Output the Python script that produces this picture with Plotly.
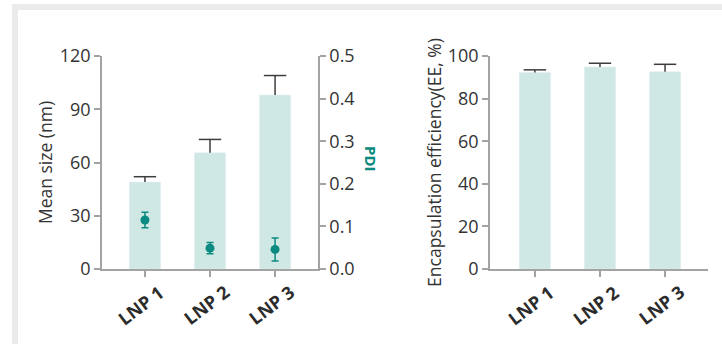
import plotly.graph_objects as go

categories = ["LNP 1", "LNP 2", "LNP 3"]
mean_size = [49, 65.5, 98]
mean_size_err = [3, 7.5, 11]
pdi = [0.115, 0.049, 0.046]
pdi_err = [0.018, 0.013, 0.027]
ee = [92.2, 94.8, 92.6]
ee_err = [1.3, 1.8, 3.5]

W, H = 722, 344
BAR = "#cfe8e4"
TEAL = "#0a8a80"
AX = "#a3a3a3"
TXT = "#333333"
FONT = "Open Sans"

def px(x):
    return x / W

def py(y):
    return (H - y) / H

fig = go.Figure()

# Left chart bars (mean size)
fig.add_trace(go.Bar(x=categories, y=mean_size, marker_color=BAR, width=0.48,
                     error_y=dict(type="data", symmetric=False, array=mean_size_err,
                                  arrayminus=[0] * 3, width=0, thickness=1.5, color="#3d3d3d"),
                     xaxis="x", yaxis="y", showlegend=False))
fig.add_trace(go.Scatter(x=categories, y=[m + e for m, e in zip(mean_size, mean_size_err)],
                         mode="markers", marker=dict(symbol="line-ew", size=16,
                                                     line=dict(width=1.5, color="#3d3d3d")),
                         xaxis="x", yaxis="y", showlegend=False))
# PDI points
fig.add_trace(go.Scatter(x=categories, y=pdi, mode="markers",
                         marker=dict(color=TEAL, size=9),
                         error_y=dict(type="data", array=pdi_err, width=3.5, thickness=1.5, color=TEAL),
                         xaxis="x", yaxis="y2", showlegend=False))

# Right chart bars (EE)
fig.add_trace(go.Bar(x=categories, y=ee, marker_color=BAR, width=0.48,
                     error_y=dict(type="data", symmetric=False, array=ee_err,
                                  arrayminus=[0] * 3, width=0, thickness=1.5, color="#3d3d3d"),
                     xaxis="x2", yaxis="y3", showlegend=False))
fig.add_trace(go.Scatter(x=categories, y=[m + e for m, e in zip(ee, ee_err)],
                         mode="markers", marker=dict(symbol="line-ew", size=16,
                                                     line=dict(width=1.5, color="#3d3d3d")),
                         xaxis="x2", yaxis="y3", showlegend=False))

axis_common = dict(showline=True, linecolor=AX, linewidth=1.5, ticks="outside",
                   tickcolor=AX, tickwidth=1.5, ticklen=6, showgrid=False, zeroline=False,
                   automargin=False,
                   tickfont=dict(family=FONT, size=18, color=TXT))
xfont = dict(family=FONT, size=18, color="#2b2b2b", weight=700)
tfont = dict(family=FONT, size=17.5, color=TXT)

annotations = [
    dict(text="PDI", xref="paper", yref="paper", x=px(371), y=py(159), showarrow=False,
         textangle=90, font=dict(family=FONT, size=15, color=TEAL, weight=700))
]
for xr in ("x", "x2"):
    for c in categories:
        annotations.append(dict(text=c, xref=xr, yref="paper", x=c, y=py(305),
                                xanchor="center", yanchor="middle", xshift=-4,
                                showarrow=False, textangle=-37, font=xfont))

fig.update_layout(
    width=W, height=H,
    margin=dict(l=0, r=0, t=0, b=0, autoexpand=False),
    paper_bgcolor="white", plot_bgcolor="rgba(0,0,0,0)",
    xaxis=dict(axis_common, domain=[px(102), px(318)], type="category",
               range=[-0.66, 2.66], anchor="y", showticklabels=False),
    yaxis=dict(axis_common, domain=[py(269), py(56)], range=[0, 120],
               tickvals=[0, 30, 60, 90, 120], anchor="x",
               title=dict(text="Mean size (nm)", font=tfont, standoff=3)),
    yaxis2=dict(axis_common, overlaying="y", side="right", anchor="x", range=[0, 0.5],
                tickvals=[0, 0.1, 0.2, 0.3, 0.4, 0.5], tickformat=".1f"),
    xaxis2=dict(axis_common, domain=[px(490), px(708)], type="category",
                range=[-0.69, 2.66], anchor="y3", showticklabels=False),
    yaxis3=dict(axis_common, domain=[py(269), py(56)], range=[0, 100],
                tickvals=[0, 20, 40, 60, 80, 100], anchor="x2",
                title=dict(text="Encapsulation efficiency(EE, %)", font=tfont, standoff=2)),
    shapes=[
        dict(type="rect", xref="paper", yref="paper", x0=px(12), x1=1.0, y0=py(10), y1=py(4),
             fillcolor="#ebebeb", line=dict(width=0), layer="below"),
        dict(type="rect", xref="paper", yref="paper", x0=px(12), x1=px(18), y0=0, y1=py(4),
             fillcolor="#ebebeb", line=dict(width=0), layer="below"),
    ],
    annotations=annotations,
)

fig.write_html("out.html")
